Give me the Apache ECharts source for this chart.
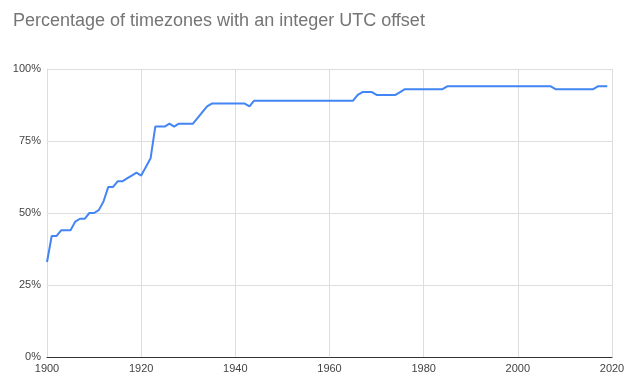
<!DOCTYPE html>
<html>
<head>
<meta charset="utf-8">
<script src="https://cdn.jsdelivr.net/npm/echarts@6/dist/echarts.min.js"></script>
<style>
html,body{margin:0;padding:0;background:#fff;}
#chart{width:630px;height:388px;}
</style>
</head>
<body>
<div id="chart"></div>
<script>
const years = [1900,1901,1902,1903,1904,1905,1906,1907,1908,1909,1910,1911,1912,1913,1914,1915,1916,1917,1918,1919,
  1920,1921,1922,1923,1924,1925,1926,1927,1928,1929,1930,1931,1932,1933,1934,1935,1936,1937,1938,1939,
  1940,1941,1942,1943,1944,1945,1946,1947,1948,1949,1950,1951,1952,1953,1954,1955,1956,1957,1958,1959,
  1960,1961,1962,1963,1964,1965,1966,1967,1968,1969,1970,1971,1972,1973,1974,1975,1976,1977,1978,1979,
  1980,1981,1982,1983,1984,1985,1986,1987,1988,1989,1990,1991,1992,1993,1994,1995,1996,1997,1998,1999,
  2000,2001,2002,2003,2004,2005,2006,2007,2008,2009,2010,2011,2012,2013,2014,2015,2016,2017,2018,2019];
const percentIntegerOffset = [33,42,42,44,44,44,47,48,48,50,50,51,54,59,59,61,61,62,63,64,
  63,66,69,80,80,80,81,80,81,81,81,81,83,85,87,88,88,88,88,88,
  88,88,88,87,89,89,89,89,89,89,89,89,89,89,89,89,89,89,89,89,
  89,89,89,89,89,89,91,92,92,92,91,91,91,91,91,92,93,93,93,93,
  93,93,93,93,93,94,94,94,94,94,94,94,94,94,94,94,94,94,94,94,
  94,94,94,94,94,94,94,94,93,93,93,93,93,93,93,93,93,94,94,94];
const xTicks = [1900,1920,1940,1960,1980,2000,2020];
const yTicks = [0,25,50,75,100];
const titleText = 'Percentage of timezones with an integer UTC offset';

const chart = echarts.init(document.getElementById('chart'), null, {renderer:'canvas'});
const font = 'Arial, "Liberation Sans", sans-serif';
chart.setOption({
  animation:false,
  backgroundColor:'#ffffff',
  title:{
    text:titleText, left:8, top:7,
    textStyle:{fontFamily:font, fontSize:18, fontWeight:'normal', color:'#757575'}
  },
  grid:{left:47, right:18, top:69, bottom:31, containLabel:false},
  xAxis:{
    type:'value', min:xTicks[0], max:xTicks[xTicks.length-1], interval:20,
    axisLine:{show:true, lineStyle:{color:'#333333', width:1}},
    axisTick:{show:false},
    axisLabel:{fontFamily:font, fontSize:11, color:'#444444', margin:6, formatter:v=>String(v)},
    splitLine:{show:true, lineStyle:{color:'#dddddd', width:1}}
  },
  yAxis:{
    type:'value', min:yTicks[0], max:yTicks[yTicks.length-1], interval:25,
    axisLine:{show:true, lineStyle:{color:'#dddddd', width:1}},
    axisTick:{show:false},
    axisLabel:{fontFamily:font, fontSize:11, color:'#444444', margin:6, formatter:v=>v+'%'},
    splitLine:{show:true, lineStyle:{color:'#dddddd', width:1}}
  },
  series:[{
    type:'line',
    data:years.map((y,i)=>[y, percentIntegerOffset[i]]),
    showSymbol:false,
    lineStyle:{color:'#4285F4', width:2},
    itemStyle:{color:'#4285F4'}
  }]
});
</script>
</body>
</html>
